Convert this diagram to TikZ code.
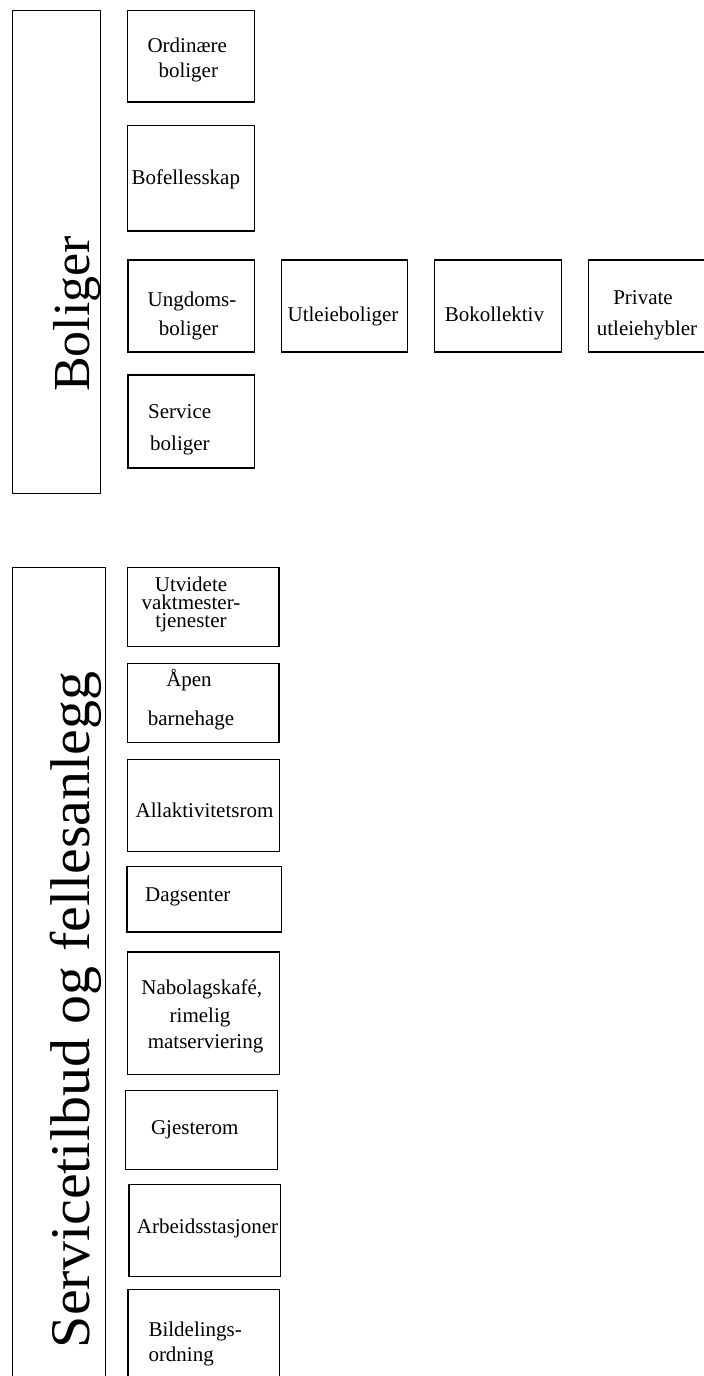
\documentclass[tikz,border=0pt]{standalone}
\usepackage{fontspec}
\setmainfont{Liberation Serif}
\tikzset{
  box/.style={draw=black, line width=1.2pt, inner sep=0pt, fill=none},
  bigbox/.style={draw=black, line width=1pt, inner sep=0pt},
  lbl/.style={inner sep=0pt, anchor=base, font=\fontsize{21}{25}\selectfont},
  lbll/.style={inner sep=0pt, anchor=base west, font=\fontsize{21}{25}\selectfont},
  title/.style={inner sep=0pt, anchor=base, rotate=90}
}
\begin{document}
\begin{tikzpicture}[x=1pt,y=-1pt]
\useasboundingbox (0,0) rectangle (704,1376);
\clip (0,0) rectangle (704,1376);
\fill[white] (0,0) rectangle (704,1376);

% Boliger section
\node[bigbox, minimum width=87.8pt, minimum height=482.5pt] (bol) at (56.6,251.75) {};
\node[title, font=\fontsize{52}{60}\selectfont] (boltxt) at (89,314) {Boliger};

\node[box, minimum width=126.6pt, minimum height=91.7pt] (ord) at (191,56.15) {};
\node[lbl] (ord1) at (187.2,52.3) {Ordinære};
\node[lbl] (ord2) at (188.3,77) {boliger};

\node[box, minimum width=126.6pt, minimum height=105.3pt] (bof) at (191,178.35) {};
\node[lbl] (bof1) at (185.8,184.3) {Bofellesskap};

\node[box, minimum width=126.6pt, minimum height=92pt] (ung) at (191.3,306) {};
\node[lbl] (ung1) at (192,306.7) {Ungdoms-};
\node[lbl] (ung2) at (188.7,335) {boliger};

\node[box, minimum width=126.2pt, minimum height=92pt] (utl) at (344.6,306) {};
\node[lbl] (utl1) at (343,321.7) {Utleieboliger};

\node[box, minimum width=126.6pt, minimum height=92pt] (bok) at (498,306) {};
\node[lbl] (bok1) at (494.4,321) {Bokollektiv};

\node[box, minimum width=126.6pt, minimum height=92pt] (pri) at (651.8,306) {};
\node[lbl] (pri1) at (643,304) {Private};
\node[lbl] (pri2) at (647,335) {utleiehybler};

\node[box, minimum width=126.6pt, minimum height=93pt] (ser) at (191.3,421.5) {};
\node[lbll] (ser1) at (148,418) {Service};
\node[lbll] (ser2) at (150,450) {boliger};

% Servicetilbud section
\node[bigbox, minimum width=93pt, minimum height=830pt] (stb) at (59.2,982.3) {};
\node[title, font=\fontsize{56}{64}\selectfont, xscale=1.035] (stbtxt) at (89,1010) {Servicetilbud og fellesanlegg};

\node[box, minimum width=151.3pt, minimum height=79pt] (utv) at (203.35,607.2) {};
\node[inner sep=0pt, anchor=center, align=center, font=\fontsize{21}{17.9}\selectfont] (utv1) at (191,604.75) {Utvidete\\vaktmester-\\tjenester};

\node[box, minimum width=151.3pt, minimum height=78.6pt] (apen) at (203.35,703) {};
\node[lbl] (apen1) at (189,686.7) {Åpen};
\node[lbl] (apen2) at (191,725) {barnehage};

\node[box, minimum width=151.6pt, minimum height=92pt] (alla) at (203.5,805.7) {};
\node[lbl] (alla1) at (204.5,817) {Allaktivitetsrom};

\node[box, minimum width=154.7pt, minimum height=65.7pt] (dag) at (204.35,899.15) {};
\node[lbl] (dag1) at (187.8,901.7) {Dagsenter};

\node[box, minimum width=151.6pt, minimum height=122.3pt] (nab) at (203.5,1013.15) {};
\node[lbl] (nab1) at (201.8,994) {Nabolagskafé,};
\node[lbl] (nab2) at (200,1022.3) {rimelig};
\node[lbl] (nab3) at (205.5,1048.7) {matserviering};

\node[box, minimum width=152pt, minimum height=79pt] (gje) at (201.7,1130.2) {};
\node[lbl] (gje1) at (194.8,1134) {Gjesterom};

\node[box, minimum width=151.3pt, minimum height=92pt] (arb) at (204.65,1230.7) {};
\node[lbl] (arb1) at (207.5,1233.3) {Arbeidsstasjoner};

\node[box, minimum width=151.7pt, minimum height=110.7pt] (bil) at (203.85,1344.65) {};
\begin{scope}
\clip (0,0) rectangle (704,1372);
\node[lbll] (bil1) at (148.3,1336.7) {Bildelings-};
\node[lbll] (bil2) at (148.3,1361.7) {ordning};
\end{scope}
\end{tikzpicture}
\end{document}
